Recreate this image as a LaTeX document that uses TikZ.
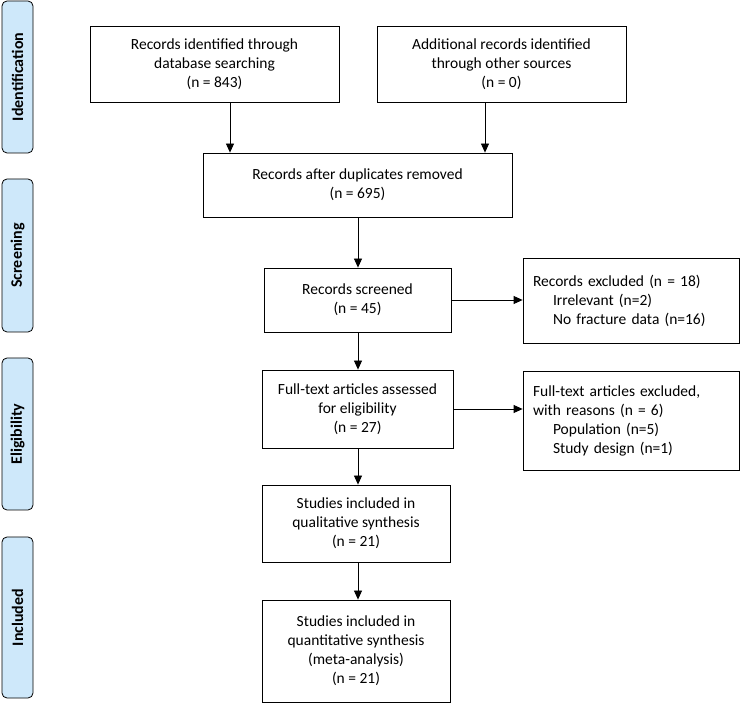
\documentclass[tikz,border=0pt]{standalone}
\usepackage{fontspec}
\setmainfont{Carlito}
\usetikzlibrary{arrows.meta}
\definecolor{phasefill}{RGB}{206,232,250}
\tikzset{
  phase/.style={draw=black, fill=phasefill, rounded corners=5pt, line width=0.8pt},
  phasetext/.style={rotate=90, font=\fontsize{16}{19}\selectfont\bfseries},
  box/.style={draw=black, line width=0.8pt, align=center, font=\fontsize{15.5}{19}\selectfont},
  lbox/.style={draw=black, line width=0.8pt, align=left, font=\fontsize{15.5}{19}\selectfont},
  arr/.style={-{Triangle[length=9pt,width=8pt]}, line width=0.8pt},
}
\newcommand{\ind}{\hspace*{20pt}}
\begin{document}
\begin{tikzpicture}[x=1pt,y=-1pt]
\useasboundingbox (0,0) rectangle (740,703);
% phase labels
\draw[phase] (2,1) rectangle (33,153);
\node[phasetext] (pid) at (17.5,77) {Identification};
\draw[phase] (2,179) rectangle (33,332);
\node[phasetext] (psc) at (17.5,255.5) {Screening};
\draw[phase] (2,358) rectangle (33,510);
\node[phasetext] (pel) at (17.5,434) {Eligibility};
\draw[phase] (2,537) rectangle (33,698);
\node[phasetext] (pin) at (17.5,617.5) {Included};
% boxes
\node[box, minimum width=249pt, minimum height=76pt] (b1) at (214.5,64)
  {Records identified through\\database searching\\(n = 843)};
\node[box, minimum width=249pt, minimum height=76pt] (b2) at (501.5,64)
  {Additional records identified\\through other sources\\(n = 0)};
\node[box, minimum width=309pt, minimum height=64pt] (b3) at (357.5,185)
  {Records after duplicates removed\\(n = 695)};
\node[box, minimum width=187pt, minimum height=64pt] (b4) at (357.5,300)
  {Records screened\\(n = 45)};
\node[lbox, minimum width=216pt, minimum height=85pt, text width=196pt] (b5) at (631,300.5)
  {Records excluded (n = 18)\\\ind Irrelevant (n=2)\\\ind No fracture data (n=16)};
\node[box, minimum width=191pt, minimum height=78pt] (b6) at (357.5,409)
  {Full-text articles assessed\\for eligibility\\(n = 27)};
\node[lbox, minimum width=216pt, minimum height=99pt, text width=196pt] (b7) at (631,420.5)
  {Full-text articles excluded,\\with reasons (n = 6)\\\ind Population (n=5)\\\ind Study design (n=1)};
\node[box, minimum width=188pt, minimum height=77pt] (b8) at (356,523.5)
  {Studies included in\\qualitative synthesis\\(n = 21)};
\node[box, minimum width=188pt, minimum height=102pt] (b9) at (356,651)
  {Studies included in\\quantitative synthesis\\(meta-analysis)\\(n = 21)};
% arrows
\draw[arr] (b1.south -| 230,0) -- (b3.north -| 230,0);
\draw[arr] (b2.south -| 485,0) -- (b3.north -| 485,0);
\draw[arr] (b3.south -| 358,0) -- (b4.north -| 358,0);
\draw[arr] (b4.east) -- (b4.east -| b5.west);
\draw[arr] (b4.south -| 358,0) -- (b6.north -| 358,0);
\draw[arr] (b6.east) -- (b6.east -| b7.west);
\draw[arr] (b6.south -| 358,0) -- (b8.north -| 358,0);
\draw[arr] (b8.south -| 358,0) -- (b9.north -| 358,0);
\end{tikzpicture}
\end{document}
